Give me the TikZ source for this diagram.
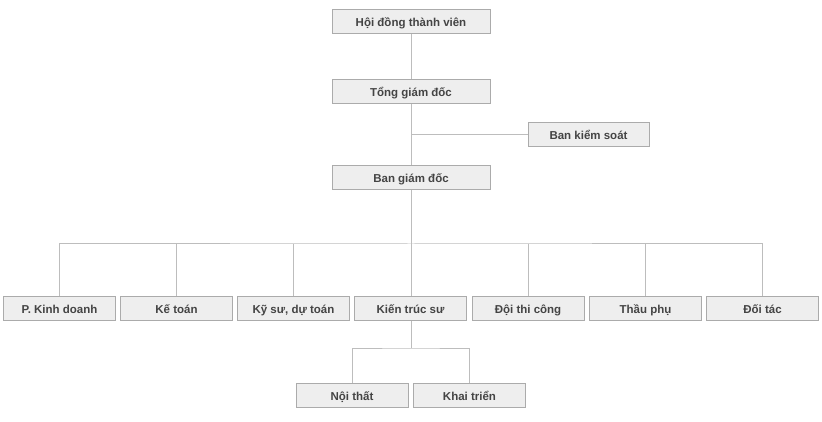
\documentclass[tikz,border=0pt]{standalone}
\usepackage{fontspec}
\setmainfont{Liberation Sans}
\definecolor{boxfill}{HTML}{EEEEEE}
\definecolor{boxline}{HTML}{ABABAB}
\definecolor{wire}{HTML}{BDBDBD}
\definecolor{txt}{HTML}{444444}
\begin{document}
\begin{tikzpicture}[x=1pt,y=-1pt,
  orgbox/.style={draw=boxline,fill=boxfill,line width=1pt,minimum height=24pt,inner sep=0pt,
    text height=11pt,text depth=1pt,
    font=\fontsize{11.5}{13}\selectfont\bfseries,text=txt},
  wide/.style={orgbox,minimum width=158pt},
  mid/.style={orgbox,minimum width=121pt},
  unit/.style={orgbox,minimum width=112pt},
  link/.style={draw=wire,line width=1pt}]
\useasboundingbox (0,0) rectangle (822,422);
\node[wide] (hd) at (411,22) {Hội đồng thành viên};
\node[wide] (tgd) at (411,92) {Tổng giám đốc};
\node[mid] (bks) at (588.5,135) {Ban kiểm soát};
\node[wide] (bgd) at (411,178) {Ban giám đốc};
\node[unit] (kd) at (59.5,308) {P. Kinh doanh};
\node[unit] (kt) at (176.5,308) {Kế toán};
\node[unit] (ks) at (293.5,308) {Kỹ sư, dự toán};
\node[unit] (kts) at (410.5,308) {Kiến trúc sư};
\node[unit] (dtc) at (528,308) {Đội thi công};
\node[unit] (tp) at (645.5,308) {Thầu phụ};
\node[unit] (dt) at (762.5,308) {Đối tác};
\node[unit] (nt) at (352,395) {Nội thất};
\node[unit] (ktr) at (469.5,395) {Khai triển};
\coordinate (bus) at (411,244);
\coordinate (sub) at (411,348);
\path[link] (hd) -- (tgd);
\path[link] (tgd) -- (bgd);
\path[link] (bks.west) -- (tgd.south |- bks.west);
\path[link] (bgd.south) -- (bus);
\path[link] (kd.north) |- (bus) -| (dt.north);
\foreach \n in {kt,ks,dtc,tp} \path[link] (\n.north) -- (\n.north |- bus);
\path[link] (bus) -- (kts.north -| bus);
\path[link] (kts.south -| sub) -- (sub);
\path[link] (nt.north) |- (sub) -| (ktr.north);
\end{tikzpicture}
\end{document}
